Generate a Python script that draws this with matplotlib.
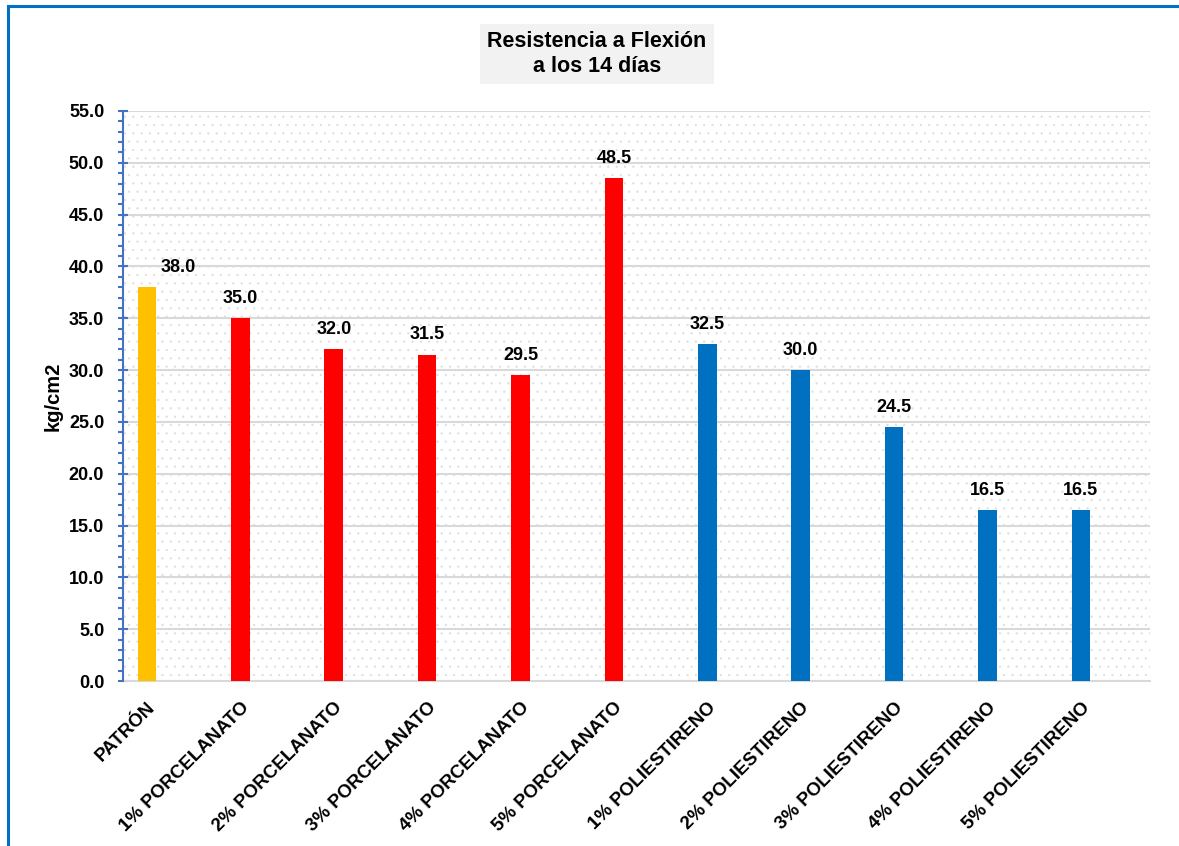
import numpy as np
import matplotlib.pyplot as plt
from matplotlib.patches import Rectangle
from matplotlib.ticker import MultipleLocator

plt.rcParams['font.family'] = ['Liberation Sans', 'DejaVu Sans']
plt.rcParams['hatch.linewidth'] = 0.4

categories = ['PATRÓN', '1% PORCELANATO', '2% PORCELANATO', '3% PORCELANATO',
              '4% PORCELANATO', '5% PORCELANATO', '1% POLIESTIRENO',
              '2% POLIESTIRENO', '3% POLIESTIRENO', '4% POLIESTIRENO',
              '5% POLIESTIRENO']
values = [38.0, 35.0, 32.0, 31.5, 29.5, 48.5, 32.5, 30.0, 24.5, 16.5, 16.5]
groups = ['patron'] + ['porcelanato'] * 5 + ['poliestireno'] * 5

colors = {'patron': '#FFC000', 'porcelanato': '#FF0000', 'poliestireno': '#0070C0'}

fig = plt.figure(figsize=(11.79, 8.46), dpi=100)
ax = fig.add_axes([0.1043, 0.195, 0.8711, 0.6738])

x = np.arange(len(categories))

# dotted background of the plot area
ax.add_patch(Rectangle((0, 0), 1, 1, transform=ax.transAxes, facecolor='none',
                       edgecolor='#dedede', hatch='..', linewidth=0, zorder=0))

ax.bar(x, values, width=0.2, color=[colors[g] for g in groups], zorder=3)

for i, v in enumerate(values):
    dx = 0.33 if i == 0 else 0
    ax.annotate(f'{v:.1f}', (x[i] + dx, v), xytext=(0, 8), textcoords='offset points',
                ha='center', va='bottom', fontsize=13, fontweight='bold', zorder=4)

ax.set_xlim(-0.257, 10.74)
ax.set_ylim(0, 55)
ax.yaxis.set_minor_locator(MultipleLocator(1))
ax.set_yticks(np.arange(0, 56, 5))
ax.set_yticklabels([f'{t:.1f}' for t in np.arange(0, 56, 5)], fontsize=13,
                   fontweight='bold')
ax.tick_params(axis='y', which='major', direction='inout', length=7, width=1.5,
               color='#4472C4', pad=10)
ax.tick_params(axis='y', which='minor', direction='out', length=3.6, width=1.5,
               color='#4472C4')

ax.set_xticks(x)
ax.set_xticklabels(categories, rotation=45, ha='right', va='top',
                   rotation_mode='anchor', fontsize=13.5, fontweight='bold')
ax.tick_params(axis='x', length=0, pad=13)

ax.grid(axis='y', which='major', color='#d9d9d9', linewidth=1.5, zorder=1)
ax.set_axisbelow(True)

for s in ['top', 'right']:
    ax.spines[s].set_visible(False)
ax.spines['left'].set_color('#4472C4')
ax.spines['left'].set_linewidth(1.5)
ax.spines['left'].set_zorder(5)
ax.spines['bottom'].set_color('#d9d9d9')
ax.spines['bottom'].set_linewidth(1.5)

ax.set_ylabel('kg/cm2', fontsize=14.5, fontweight='bold')
ax.yaxis.set_label_coords(-0.059, 0.5)

fig.text(0.5064, 0.936, 'Resistencia a Flexión\na los 14 días', ha='center',
         va='center', fontsize=15.5, fontweight='bold', linespacing=1.25,
         bbox=dict(boxstyle='square,pad=0.33', facecolor='#f2f2f2', edgecolor='none'))

# blue chart border
fig.add_artist(Rectangle((8 / 1179, -0.1), 1.2, 1 - 6 / 846 + 0.1,
                         transform=fig.transFigure, facecolor='none',
                         edgecolor='#0070C0', linewidth=2.2))

fig.savefig('out.png', dpi=100)
